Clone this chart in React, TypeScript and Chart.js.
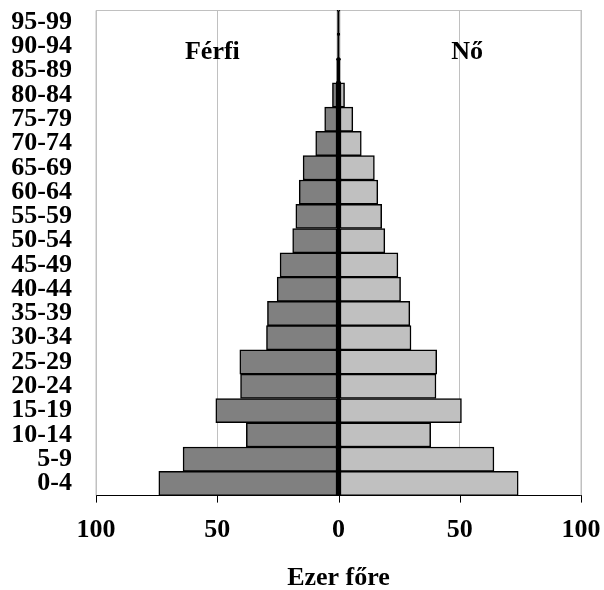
import React, { useEffect, useRef } from "react";
import { Chart, registerables } from "chart.js";

Chart.register(...registerables);

const ageGroups = ["0-4","5-9","10-14","15-19","20-24","25-29","30-34","35-39","40-44","45-49","50-54","55-59","60-64","65-69","70-74","75-79","80-84","85-89","90-94","95-99"];
const maleValues = [74.1, 64.1, 38.0, 50.6, 40.4, 40.7, 29.7, 29.3, 25.3, 24.1, 18.9, 17.6, 16.2, 14.6, 9.4, 5.7, 2.5, 0.9, 0.3, 0.1];
const femaleValues = [74.1, 64.1, 38.0, 50.7, 40.2, 40.5, 29.9, 29.4, 25.6, 24.5, 19.1, 17.8, 16.2, 14.8, 9.4, 5.9, 2.5, 0.9, 0.3, 0.1];
const seriesNames = ["Férfi", "Nő"];
const xTicks = [-100, -50, 0, 50, 100];
const axisTitle = "Ezer főre";

const FONT = "'Liberation Serif', 'Times New Roman', serif";

const labelsPlugin = {
  id: "sideLabels",
  beforeDatasetsDraw(chart: any) {
    const { ctx, chartArea, scales } = chart;
    ctx.save();
    ctx.strokeStyle = "#c0c0c0";
    ctx.lineWidth = 1;
    ctx.beginPath();
    ctx.moveTo(chartArea.left, chartArea.bottom);
    ctx.lineTo(chartArea.left, chartArea.top + 0.5);
    ctx.lineTo(chartArea.right, chartArea.top + 0.5);
    ctx.lineTo(chartArea.right, chartArea.bottom);
    ctx.stroke();
    ctx.strokeStyle = "#000";
    ctx.beginPath();
    for (const v of xTicks) {
      const px = Math.round(scales.x.getPixelForValue(v)) + 0.5;
      ctx.moveTo(px, chartArea.bottom);
      ctx.lineTo(px, chartArea.bottom + 7);
    }
    ctx.stroke();
    ctx.restore();
  },
  afterDatasetsDraw(chart: any) {
    const { ctx, scales } = chart;
    const x = scales.x;
    const y = scales.y;
    const yPos = y.getPixelForValue(ageGroups.indexOf("90-94")) + 6;
    ctx.save();
    ctx.fillStyle = "#000";
    ctx.font = `bold 26px ${FONT}`;
    ctx.textAlign = "center";
    ctx.textBaseline = "middle";
    ctx.fillText(seriesNames[0], x.getPixelForValue(-52), yPos);
    ctx.fillText(seriesNames[1], x.getPixelForValue(53), yPos);
    ctx.restore();
  },
};

export default function App() {
  const ref = useRef<HTMLCanvasElement>(null);
  useEffect(() => {
    document.documentElement.style.overflow = "hidden";
    const chart = new Chart(ref.current!, {
      type: "bar",
      data: {
        labels: ageGroups,
        datasets: [
          {
            label: seriesNames[0],
            data: maleValues.map((v) => -v),
            backgroundColor: "#808080",
            borderColor: "#000",
            borderWidth: 1.5,
            borderSkipped: false,
            barPercentage: 1,
            categoryPercentage: 1,
          },
          {
            label: seriesNames[1],
            data: femaleValues,
            backgroundColor: "#c0c0c0",
            borderColor: "#000",
            borderWidth: 1.5,
            borderSkipped: false,
            barPercentage: 1,
            categoryPercentage: 1,
          },
        ],
      },
      options: {
        indexAxis: "y",
        animation: false,
        responsive: true,
        maintainAspectRatio: false,
        layout: { padding: { top: 10, right: 23, left: 8, bottom: 0 } },
        plugins: { legend: { display: false }, tooltip: { enabled: false } },
        scales: {
          x: {
            stacked: true,
            min: -100,
            max: 100,
            afterBuildTicks: (s: any) => {
              s.ticks = xTicks.map((v) => ({ value: v }));
            },
            ticks: {
              callback: (v: any) => String(Math.abs(Number(v))),
              color: "#000",
              font: { family: FONT, size: 26, weight: "bold" },
              padding: 3,
              maxRotation: 0,
            },
            grid: {
              color: (c: any) => (c.tick && c.tick.value === 0 ? "#000" : "#c0c0c0"),
              lineWidth: (c: any) => (c.tick && c.tick.value === 0 ? 3 : 1),
              tickColor: "rgba(0,0,0,0)",
              tickWidth: 1,
              tickLength: 16,
              drawTicks: true,
            },
            border: { display: true, color: "#000", width: 1 },
            title: {
              display: true,
              text: axisTitle,
              color: "#000",
              font: { family: FONT, size: 26, weight: "bold" },
              padding: { top: 14, bottom: 0 },
            },
          },
          y: {
            stacked: true,
            reverse: true,
            afterFit: (s: any) => {
              s.width = 88;
            },
            ticks: {
              color: "#000",
              font: { family: FONT, size: 26, weight: "bold", lineHeight: 0.1 },
              padding: 0,
              autoSkip: false,
            },
            grid: {
              display: true,
              drawOnChartArea: false,
              drawTicks: true,
              tickLength: 24,
              color: "rgba(0,0,0,0)",
              tickColor: "rgba(0,0,0,0)",
            },
            border: { display: false },
          },
        },
      },
      plugins: [labelsPlugin],
    });
    return () => chart.destroy();
  }, []);
  return (
    <div style={{ position: "fixed", left: 0, top: 0, width: 604, height: 594 }}>
      <canvas ref={ref} />
    </div>
  );
}
